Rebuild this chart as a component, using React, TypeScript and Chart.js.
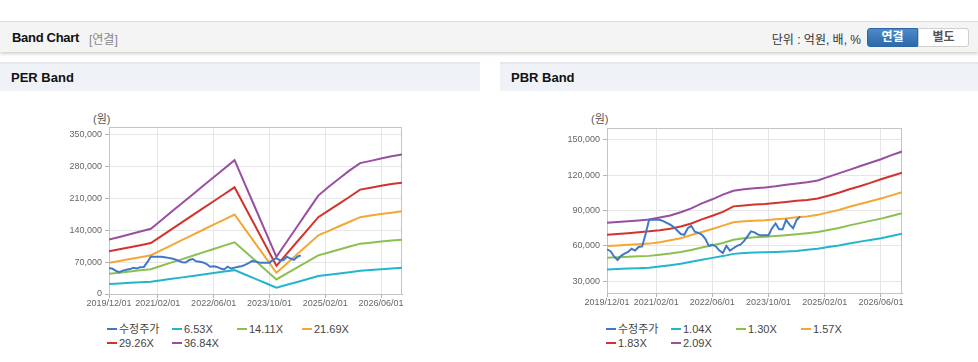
import React, { useEffect, useRef } from "react";
import { Chart, registerables } from "chart.js";
Chart.register(...registerables);

const FONT = '"Liberation Sans", "Noto Sans CJK KR", Arial, sans-serif';

// ---------- DATA ----------
const bandDates = [
  "2019/12", "2020/03", "2020/06", "2020/09", "2020/12",
  "2021/03", "2021/06", "2021/09", "2021/12",
  "2022/03", "2022/06", "2022/09", "2022/12",
  "2023/03", "2023/06", "2023/09", "2023/12",
  "2024/03", "2024/06", "2024/09", "2024/12",
  "2025/03", "2025/06", "2025/09", "2025/12",
  "2026/03", "2026/06", "2026/09", "2026/12",
];

const priceDates = [
  "2019/12",
  "2020/01", "2020/02", "2020/03", "2020/04", "2020/05", "2020/06", "2020/07", "2020/08", "2020/09", "2020/10", "2020/11", "2020/12",
  "2021/01", "2021/02", "2021/03", "2021/04", "2021/05", "2021/06", "2021/07", "2021/08", "2021/09", "2021/10", "2021/11", "2021/12",
  "2022/01", "2022/02", "2022/03", "2022/04", "2022/05", "2022/06", "2022/07", "2022/08", "2022/09", "2022/10", "2022/11", "2022/12",
  "2023/01", "2023/02", "2023/03", "2023/04", "2023/05", "2023/06", "2023/07", "2023/08", "2023/09", "2023/10", "2023/11", "2023/12",
  "2024/01", "2024/02", "2024/03", "2024/04", "2024/05", "2024/06", "2024/07",
];

const xTickLabels = ["2019/12/01", "2021/02/01", "2022/06/01", "2023/10/01", "2025/02/01", "2026/06/01"];

const priceValues = [
  57000, 55500, 51000, 48000, 51500, 53400, 54800, 57500, 56000, 59000, 59500, 70000, 82400,
  82200, 82100, 82100, 81000, 79500, 78000, 76000, 73000, 70000, 69400, 75000, 77000,
  72000, 71000, 69500, 66000, 60000, 61000, 59500, 56000, 54000, 60000, 56000, 58000,
  60000, 61000, 64000, 68000, 72300, 71500, 69500, 68900, 68900, 69000, 75000, 79000,
  74000, 74000, 82000, 78000, 75000, 82000, 85000,
];

const perLabels = ["수정주가", "6.53X", "14.11X", "21.69X", "29.26X", "36.84X"];
const per653 = [21900, 23200, 24500, 25700, 27000, 30200, 33400, 36600, 39800, 42900, 46100, 49300, 52500, 42900, 33200, 23600, 14000, 20300, 26600, 33000, 39400, 42300, 45200, 48100, 51000, 52700, 54300, 56000, 57600];
const per1411 = [44500, 47000, 49600, 52100, 54700, 62100, 69500, 76800, 84200, 91600, 99000, 106400, 113800, 93300, 72900, 52400, 32000, 45300, 58500, 71800, 85000, 91500, 98000, 104500, 110800, 113000, 115500, 117500, 119600];
const per2169 = [68500, 72700, 76900, 81100, 85300, 96500, 107700, 118900, 130200, 141400, 152600, 163800, 175000, 142900, 110800, 78800, 46700, 67300, 87900, 108400, 129000, 139000, 149000, 159000, 169000, 172500, 176000, 179000, 182000];
const per2926 = [94000, 98500, 103000, 107500, 112000, 127400, 142700, 158000, 173400, 188800, 204100, 219500, 234800, 191600, 148400, 105200, 62000, 88800, 115500, 142300, 169000, 184000, 199000, 214000, 229700, 234000, 238000, 242000, 245000];
const per3684 = [119600, 125600, 131600, 137600, 143600, 162500, 181400, 200300, 219100, 238000, 256900, 275700, 294600, 241400, 188200, 135000, 81700, 115400, 149100, 182900, 216600, 236000, 254000, 272000, 288000, 293000, 298000, 303000, 307000];
const perYTicks = [0, 70000, 140000, 210000, 280000, 350000];

const pbrLabels = ["수정주가", "1.04X", "1.30X", "1.57X", "1.83X", "2.09X"];
const pbr104 = [39900, 40300, 40700, 41100, 41500, 42400, 43500, 44800, 46500, 48300, 49800, 51300, 53200, 53900, 54300, 54500, 54800, 55200, 55700, 56600, 57600, 59000, 60300, 62000, 63600, 65000, 66500, 68300, 70300];
const pbr130 = [50000, 50400, 50700, 51100, 51500, 52500, 53500, 54800, 56500, 58600, 60500, 62500, 65200, 66400, 67300, 67700, 68300, 69000, 69800, 70700, 71800, 73500, 75200, 77400, 79300, 81200, 83100, 85400, 87700];
const pbr157 = [59900, 60400, 60900, 61400, 61900, 63100, 64700, 66500, 69200, 71800, 74300, 77200, 80000, 80900, 81400, 81800, 82600, 83300, 84200, 85000, 86300, 88400, 90500, 93200, 95500, 97800, 100200, 102800, 105500];
const pbr183 = [69400, 70100, 70800, 71600, 72300, 73300, 74600, 76500, 79000, 82500, 85500, 88800, 93500, 94200, 95000, 95500, 96300, 97200, 98200, 99000, 100200, 102500, 105000, 108000, 110600, 113400, 116500, 119300, 122000];
const pbr209 = [79600, 80200, 80900, 81600, 82400, 84000, 85800, 88500, 91800, 96000, 99500, 103500, 106800, 108000, 108800, 109500, 110500, 111800, 113000, 114000, 115500, 118500, 121500, 124500, 127500, 130500, 133500, 137000, 140000];
const pbrYTicks = [30000, 60000, 90000, 120000, 150000];

// ---------- STYLE ----------
const COLORS = ["#3f78c6", "#22b6cc", "#8cbf52", "#f5a733", "#d4322c", "#994ea0"];

const monthIndex = (d: string) => {
  const [y, m] = d.split("/").map(Number);
  return (y - 2019) * 12 + (m - 12);
};
const xTickPos = xTickLabels.map(monthIndex);
const xMax = monthIndex(bandDates[bandDates.length - 1]);

type Series = { label: string; color: string; dates: string[]; values: number[] };

const framePlugin = {
  id: "frame",
  beforeDatasetsDraw(chart: any) {
    const { ctx, chartArea: a } = chart;
    ctx.save();
    ctx.strokeStyle = "#c4c4c4";
    ctx.lineWidth = 1;
    ctx.strokeRect(Math.round(a.left) + 0.5, Math.round(a.top) + 0.5, Math.round(a.right - a.left) - 1, Math.round(a.bottom - a.top));
    ctx.restore();
  },
};

function BandCanvas(props: {
  left: number; top: number; width: number; height: number;
  pad: { left: number; right: number; top: number; bottom: number };
  yMin: number; yMax: number; yTicks: number[]; series: Series[];
}) {
  const ref = useRef<HTMLCanvasElement | null>(null);
  useEffect(() => {
    if (!ref.current) return;
    const chart = new Chart(ref.current, {
      type: "line",
      data: {
        datasets: props.series.map((s) => ({
          label: s.label,
          data: s.values.map((v, i) => ({ x: monthIndex(s.dates[i]), y: v })),
          borderColor: s.color,
          backgroundColor: s.color,
          borderWidth: 2,
          pointRadius: 0,
          fill: false,
          tension: 0,
        })),
      },
      options: {
        responsive: false,
        animation: false,
        devicePixelRatio: 1,
        events: [],
        layout: { padding: props.pad },
        plugins: { legend: { display: false }, tooltip: { enabled: false } },
        scales: {
          x: {
            type: "linear",
            min: 0,
            max: xMax,
            afterBuildTicks: (s: any) => {
              s.ticks = xTickPos.map((v) => ({ value: v }));
            },
            afterFit: (s: any) => {
              s.height = 21;
            },
            ticks: {
              autoSkip: false,
              maxRotation: 0,
              padding: 0,
              color: "#666",
              font: { size: 9, family: FONT },
              callback: (v: any) => xTickLabels[xTickPos.indexOf(Number(v))],
            },
            grid: { color: "#e6e6e6", tickLength: 4, tickColor: "#b4b4b4" },
            border: { color: "#b4b4b4" },
          },
          y: {
            min: props.yMin,
            max: props.yMax,
            afterBuildTicks: (s: any) => {
              s.ticks = props.yTicks.map((v) => ({ value: v }));
            },
            afterFit: (s: any) => {
              s.width = 69;
            },
            ticks: {
              padding: 3,
              color: "#666",
              font: { size: 9, family: FONT },
              callback: (v: any) => Number(v).toLocaleString("en-US"),
            },
            grid: { color: "#e6e6e6", tickLength: 4, tickColor: "#b4b4b4" },
            border: { color: "#b4b4b4" },
          },
        },
      } as any,
      plugins: [framePlugin],
    });
    return () => chart.destroy();
  }, []);
  return (
    <canvas
      ref={ref}
      width={props.width}
      height={props.height}
      style={{ position: "absolute", left: props.left, top: props.top, width: props.width, height: props.height }}
    />
  );
}

function Legend(props: { left: number; top: number; series: Series[] }) {
  return (
    <div
      style={{
        position: "absolute",
        left: props.left,
        top: props.top,
        display: "grid",
        gridTemplateColumns: "65px 65px 65px 65px",
        gridAutoRows: "14px",
        fontSize: 11,
        color: "#444",
        fontFamily: FONT,
      }}
    >
      {props.series.map((s) => (
        <div key={s.label} style={{ display: "flex", alignItems: "center", whiteSpace: "nowrap", lineHeight: "14px" }}>
          <span style={{ display: "inline-block", width: 10, height: 2, background: s.color, marginRight: 2 }} />
          <span>{s.label}</span>
        </div>
      ))}
    </div>
  );
}

const perSeries: Series[] = [
  { label: perLabels[0], color: COLORS[0], dates: priceDates, values: priceValues },
  { label: perLabels[1], color: COLORS[1], dates: bandDates, values: per653 },
  { label: perLabels[2], color: COLORS[2], dates: bandDates, values: per1411 },
  { label: perLabels[3], color: COLORS[3], dates: bandDates, values: per2169 },
  { label: perLabels[4], color: COLORS[4], dates: bandDates, values: per2926 },
  { label: perLabels[5], color: COLORS[5], dates: bandDates, values: per3684 },
];
const pbrSeries: Series[] = [
  { label: pbrLabels[0], color: COLORS[0], dates: priceDates, values: priceValues },
  { label: pbrLabels[1], color: COLORS[1], dates: bandDates, values: pbr104 },
  { label: pbrLabels[2], color: COLORS[2], dates: bandDates, values: pbr130 },
  { label: pbrLabels[3], color: COLORS[3], dates: bandDates, values: pbr157 },
  { label: pbrLabels[4], color: COLORS[4], dates: bandDates, values: pbr183 },
  { label: pbrLabels[5], color: COLORS[5], dates: bandDates, values: pbr209 },
];

export default function App() {
  useEffect(() => {
    document.body.style.margin = "0";
  }, []);
  const sectionHead = (left: number, width: number, text: string) => (
    <div
      style={{
        position: "absolute",
        left,
        top: 62,
        width,
        height: 27,
        background: "#eff2f7",
        borderTop: "2px solid #e4e8ee",
        fontWeight: "bold",
        fontSize: 13,
        lineHeight: "27px",
        color: "#111",
        paddingLeft: 11,
        boxSizing: "content-box",
      }}
    >
      {text}
    </div>
  );
  return (
    <div style={{ position: "relative", width: 978, height: 362, background: "#fff", overflow: "hidden", fontFamily: FONT }}>
      {/* top header */}
      <div
        style={{
          position: "absolute",
          left: 0,
          top: 21,
          width: 978,
          height: 30,
          background: "#f4f4f4",
          borderTop: "1px solid #dedede",
          boxShadow: "0 2px 3px rgba(0,0,0,0.18)",
        }}
      >
        <span style={{ position: "absolute", left: 12, top: 8, fontSize: 13, fontWeight: "bold", color: "#111", letterSpacing: -0.3 }}>Band Chart</span>
        <span style={{ position: "absolute", left: 89, top: 8, fontSize: 12, color: "#888" }}>[연결]</span>
        <span style={{ position: "absolute", right: 117, top: 8, fontSize: 12, color: "#333" }}>단위 : 억원, 배, %</span>
        <div
          style={{
            position: "absolute",
            left: 867,
            top: 6,
            width: 51,
            height: 19,
            background: "linear-gradient(#4d8ac8, #2e69aa)",
            border: "1px solid #2d66a5",
            boxSizing: "border-box",
            borderRadius: "3px 0 0 3px",
            color: "#fff",
            fontWeight: "bold",
            fontSize: 12,
            textAlign: "center",
            lineHeight: "17px",
          }}
        >
          연결
        </div>
        <div
          style={{
            position: "absolute",
            left: 918,
            top: 6,
            width: 51,
            height: 19,
            background: "#fff",
            border: "1px solid #cfcfcf",
            boxSizing: "border-box",
            borderRadius: "0 3px 3px 0",
            color: "#555",
            fontWeight: "bold",
            fontSize: 12,
            textAlign: "center",
            lineHeight: "17px",
          }}
        >
          별도
        </div>
      </div>

      {sectionHead(0, 469, "PER Band")}
      {sectionHead(500, 467, "PBR Band")}

      <div style={{ position: "absolute", left: 93, top: 110, fontSize: 11, color: "#555" }}>(원)</div>
      <div style={{ position: "absolute", left: 591, top: 110, fontSize: 11, color: "#555" }}>(원)</div>

      <BandCanvas
        left={40}
        top={100}
        width={380}
        height={215}
        pad={{ left: 0, right: 18, top: 27, bottom: 0 }}
        yMin={0}
        yMax={367500}
        yTicks={perYTicks}
        series={perSeries}
      />
      <BandCanvas
        left={538}
        top={100}
        width={380}
        height={215}
        pad={{ left: 0, right: 16, top: 28, bottom: 1 }}
        yMin={20000}
        yMax={160000}
        yTicks={pbrYTicks}
        series={pbrSeries}
      />

      <Legend left={107} top={322} series={perSeries} />
      <Legend left={606} top={322} series={pbrSeries} />
    </div>
  );
}
